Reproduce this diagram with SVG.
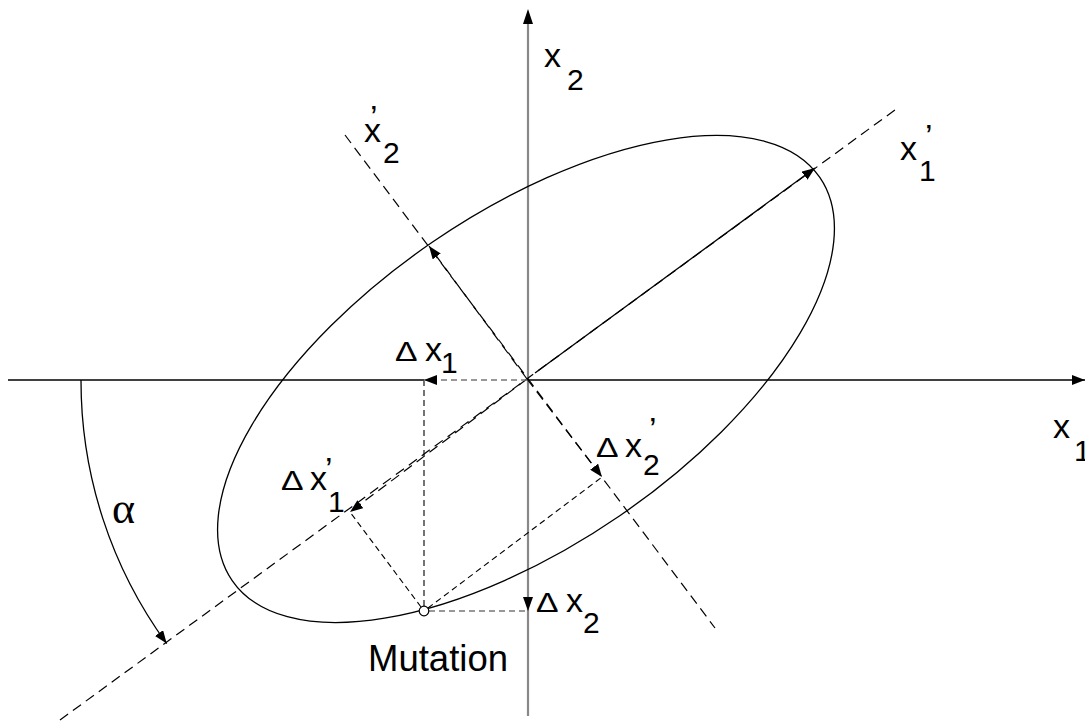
<svg xmlns="http://www.w3.org/2000/svg" width="1085" height="726" viewBox="0 0 1085 726">
<style>
text{font-family:"Liberation Sans",Arial,sans-serif;fill:#000;font-size:34px}
.sub{font-size:30px}
.pr{font-size:34px}
.dl{font-size:27px}
.ax{stroke:#000;stroke-width:1.5;fill:none}
.gax{stroke:#888;stroke-width:2.2;fill:none}
.dash{stroke:#000;stroke-width:1.2;fill:none;stroke-dasharray:10 6}
.pdash{stroke:#000;stroke-width:1.1;fill:none;stroke-dasharray:6 4}
.gdash{stroke:#777;stroke-width:1.5;fill:none;stroke-dasharray:6 4}
.solid{stroke:#000;stroke-width:1.3;fill:none}
</style>
<defs>
<marker id="ah" markerUnits="userSpaceOnUse" markerWidth="14" markerHeight="10" refX="13" refY="5" orient="auto">
<path d="M0,0 L13,5 L0,10 z" fill="#000"/>
</marker>
</defs>
<rect width="1085" height="726" fill="#fff"/>
<g id="axes">
<path class="ax" d="M8 380 H424"/>
<path class="ax" d="M527 380 H1085" marker-end="url(#ah)"/>
<path class="gax" d="M528 716 V24"/>
<path d="M528 9 L523 24 L533 24 z" fill="#000"/>
<path class="dash" d="M60 720 L899 107"/>
<path class="dash" d="M345 135 L715 628"/>
</g>
<g id="ellipse">
<ellipse cx="0" cy="0" rx="356.3" ry="165.8" transform="translate(526 379) rotate(-34.45)" fill="none" stroke="#000" stroke-width="1.3"/>
</g>
<g id="connectors">
<path class="solid" d="M535 373 L815 168" marker-end="url(#ah)"/>
<path class="dash" d="M527 379 L429 246" marker-end="url(#ah)"/>
<path class="dash" d="M527 379 L350 512" marker-end="url(#ah)"/>
<path class="dash" d="M527 379 L602 477" marker-end="url(#ah)"/>
<path class="gdash" d="M527 380 L424 380" marker-end="url(#ah)"/>
<path d="M528 611 L523 597 L533 597 z" fill="#000"/>
<path class="solid" d="M81 380 A446 446 0 0 0 166.7 643.6" marker-end="url(#ah)"/>
<path class="pdash" d="M424 606 V381" stroke-width="1.5"/>
<path class="gdash" d="M429 611 H527"/>
<path class="pdash" d="M421 607 L350 512"/>
<path class="pdash" d="M428 608 L602 477"/>
</g>
<g id="mutation">
<circle cx="424" cy="611" r="4.8" fill="#fff" stroke="#000" stroke-width="1.2"/>
<text x="368" y="671" style="font-size:36.5px">Mutation</text>
</g>
<g id="label-x2">
<text x="544" y="67">x<tspan class="sub" x="567" y="90">2</tspan></text>
</g>
<g id="label-x2p">
<text x="364" y="142">x<tspan class="pr" x="370" y="129">’</tspan><tspan class="sub" x="383" y="163">2</tspan></text>
</g>
<g id="label-x1p">
<text x="900" y="160">x<tspan class="pr" x="925" y="148">’</tspan><tspan class="sub" x="919" y="181">1</tspan></text>
</g>
<g id="label-x1">
<text x="1053" y="438">x<tspan class="sub" x="1074" y="461">1</tspan></text>
</g>
<g id="label-dx1">
<text class="dl" transform="translate(395 361) scale(1.25 1)">Δ</text>
<text x="425" y="361">x<tspan class="sub" x="441" y="373">1</tspan></text>
</g>
<g id="label-dx2p">
<text class="dl" transform="translate(596 457) scale(1.25 1)">Δ</text>
<text x="625" y="457">x<tspan class="pr" x="649" y="441">’</tspan><tspan class="sub" x="643" y="475">2</tspan></text>
</g>
<g id="label-dx2">
<text class="dl" transform="translate(536 612) scale(1.25 1)">Δ</text>
<text x="566" y="612">x<tspan class="sub" x="583" y="633">2</tspan></text>
</g>
<g id="label-dx1p">
<text class="dl" transform="translate(281 490) scale(1.25 1)">Δ</text>
<text x="310" y="490">x<tspan class="pr" x="325" y="481">’</tspan><tspan class="sub" x="328" y="512">1</tspan></text>
</g>
<g id="label-alpha">
<text x="112" y="523" style="font-family:'Liberation Serif',serif;font-size:44px">α</text>
</g>
</svg>
